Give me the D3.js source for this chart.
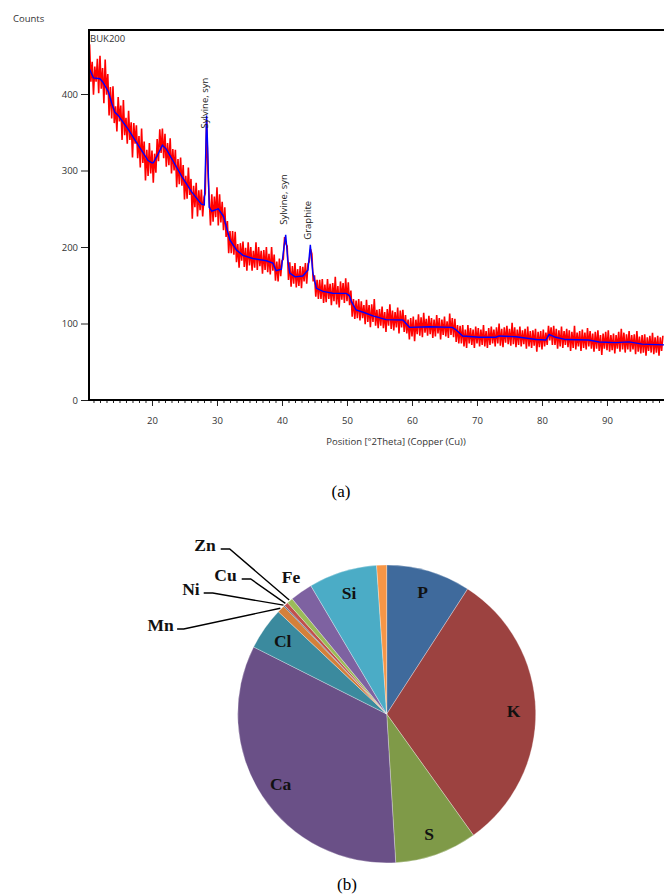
<!DOCTYPE html>
<html><head><meta charset="utf-8">
<script src="https://cdn.jsdelivr.net/npm/d3@7"></script>
<style>body{margin:0;background:#fff}svg{display:block}</style>
</head><body>
<svg id="c" width="664" height="896"></svg>
<script>
// ---------- DATA ----------
// XRD raw counts (red), fixed step in 2Theta
const redStart = 10.4, redStep = 0.2;
const redCounts = [
465,416,442,
399,436,416,446,401, 450,407,434,388,445, 399,426,372,409,368, 410,362,384,351,396,
364,385,340,392,346, 369,335,378,340,363, 317,362,335,359,316, 345,304,355,310,338,
287,327,293,336,296, 326,284,322,297,341, 312,354,323,355,316, 348,305,336,307,342,
296,328,300,327,278, 315,282,317,280,307, 262,293,263,304,268, 289,237,280,252,284,
240,274,248,275,240, 265,270,365,300,264, 228,269,233,266,239, 278,228,269,232,259,
222,252,213,234,192, 221,192,221,190,220, 180,204,173,205,182, 207,174,199,169,206,
176,200,169,195,173, 206,170,200,175,195, 165,196,170,200,167, 191,164,200,169,190,
156,181,155,185,162, 182,184,213,204,201, 157,180,148,175,152, 179,147,171,149,175,
146,174,155,179,152, 178,181,197,191,155, 163,135,157,132,157, 132,158,127,151,128,
158,132,152,124,153, 129,161,125,149,121, 155,131,153,127,159, 129,154,124,143,109,
132,106,130,107,132, 104,129,107,124,99, 131,102,124,95,125, 102,132,97,118,94,
119,97,122,94,115, 89,119,97,125,93, 117,91,115,95,121, 87,117,95,118,89,
111,87,105,79,107, 83,109,77,105,86, 112,84,108,82,114, 88,106,84,110,86,
107,81,105,83,111, 87,107,79,105,85, 109,83,103,81,113, 85,107,82,106,76,
98,74,97,74,98, 70,92,68,98,74, 94,72,92,68,96, 74,94,70,92,72,
98,70,90,68,94, 72,96,74,92,70, 95,74,100,71,93, 69,95,75,97,73,
93,71,101,73,95, 69,92,72,96,70, 91,73,93,67,96, 70,90,68,91,71,
93,63,89,69,90, 66,92,70,88,72, 97,78,95,72,97, 72,93,67,91,70,
96,68,90,72,93, 69,91,64,89,68, 97,66,88,70,90, 64,92,68,88,66,
94,70,90,67,87, 63,89,67,91,64, 85,59,87,67,89, 65,91,63,85,65,
87,61,85,67,89, 63,93,66,88,62, 86,66,90,63,85, 66,86,60,90,63,
83,61,85,62,86, 58,82,64,84,62, 88,60,82,62,84,
58,82,64,84
];
// calculated profile (blue)
const blueTheta  = [10.31,11.0,12.0,12.4,13.3,13.8,14.3,14.8,16.4,17.9,19.4,20.0,20.2,20.8,21.6,22.2,23.0,24.6,26.1,27.6,
                    28.05,28.2,28.4,28.57,28.8,29.2,30.2,31.0,32.0,33.0,34.0,35.5,37.6,38.6,39.1,39.9,40.3,40.57,40.9,41.2,
                    42.0,43.2,44.0,44.36,44.75,45.3,46.3,47.8,49.9,50.4,50.7,51.4,52.4,54.0,56.0,58.6,59.6,62.7,66.2,66.8,
                    67.8,70.4,72.9,73.4,76.0,79.1,80.6,81.1,82.1,83.7,87.2,88.8,91.3,93.4,95.4,98.77];
const blueCounts = [434,421,420,416,403,388,376,372,353,333,313,310,310,319,333,328,316,292,272,256,
                    255,300,372,330,252,247,250,240,209,196,189,185,182,179,169,171,200,216,183,166,
                    161,162,170,203,166,146,142,139.5,139.4,136,128.5,117.6,115,110,105,104.6,95,95.8,95,91.5,
                    83.7,82,82,83.7,82.7,79,78.4,85.8,82,79,78.4,75.8,75,76,73,72];
const xTicks = [20,30,40,50,60,70,80,90];
const xMinorTicks = d3.range(11, 99);
const yTicks = [0,100,200,300,400];
const peakTheta  = [28.4, 40.57, 44.36];
const peakCounts = [372, 216, 203];
const peakNames  = ["Sylvine, syn","Sylvine, syn","Graphite"];

// pie composition
const elements = ["P","K","S","Ca","Cl","Mn","Ni","Cu","Zn","Fe","Si",""];
const percents = [9.14,30.97,8.92,33.39,4.61,0.83,0.11,0.44,0.64,2.44,7.42,1.08];
const sliceColors = ["#3F6A9C","#9C4240","#7F9A48","#6A5087","#3B8A9E","#D4803A",
                     "#2C4D75","#C0504D","#9BBB59","#7E62A1","#4BACC6","#F79646"];

// ---------- LAYOUT ----------
const svg = d3.select("#c");
const plot = {left:89, right:664, top:30, bottom:400};
const uiFont = "'Open Sans', 'Liberation Sans', Arial, sans-serif";
const serif = "'Liberation Serif', 'Times New Roman', serif";

const x = d3.scaleLinear().domain([10.31, 98.77]).range([plot.left, plot.right]);
const y = d3.scaleLinear().domain([0, 400]).range([plot.bottom, 94]);

svg.append("clipPath").attr("id","pc").append("rect")
  .attr("x",plot.left).attr("y",plot.top).attr("width",plot.right-plot.left).attr("height",plot.bottom-plot.top);

const g = svg.append("g").attr("clip-path","url(#pc)");
g.append("path").datum(redCounts)
  .attr("fill","none").attr("stroke","#ff0000").attr("stroke-width",1.6).attr("stroke-linejoin","bevel")
  .attr("d", d3.line().x((d,i)=>x(redStart+i*redStep)).y(d=>y(d)));
g.append("path").datum(blueTheta.map((t,i)=>[t,blueCounts[i]]))
  .attr("fill","none").attr("stroke","#0000ff").attr("stroke-width",1.4)
  .attr("d", d3.line().x(d=>x(d[0])).y(d=>y(d[1])));

// axes
const ya = svg.append("g").attr("transform",`translate(${plot.left},0)`)
  .call(d3.axisLeft(y).tickValues(yTicks).tickSize(8).tickPadding(3));
const xm = svg.append("g").attr("transform",`translate(0,${plot.bottom})`)
  .call(d3.axisBottom(x).tickValues(xMinorTicks).tickSize(3).tickFormat(""));
const xa = svg.append("g").attr("transform",`translate(0,${plot.bottom})`)
  .call(d3.axisBottom(x).tickValues(xTicks).tickSize(6).tickPadding(11));
[ya,xm,xa].forEach(a=>{
  a.select(".domain").remove();
  a.selectAll("line").attr("stroke","#222");
  a.selectAll("text").attr("font-family",uiFont).attr("font-size",9.5).attr("fill","#333");
});
// frame
svg.append("path").attr("fill","none").attr("stroke","#000").attr("stroke-width",2)
  .attr("d",`M${plot.right},${plot.top}H${plot.left}V${plot.bottom}H${plot.right}`);

svg.append("text").attr("x",13).attr("y",21.5).text("Counts")
  .attr("font-family",uiFont).attr("font-size",9.5).attr("fill","#333");
svg.append("text").attr("x",plot.left+1).attr("y",41.5).text("BUK200")
  .attr("font-family",uiFont).attr("font-size",9.5).attr("fill","#333");
svg.append("text").attr("x",396).attr("y",444.5).attr("text-anchor","middle")
  .text("Position [°2Theta] (Copper (Cu))")
  .attr("font-family",uiFont).attr("font-size",9.5).attr("fill","#333");

const peakLabelDy = [13,-10,-5];
peakNames.forEach((n,i)=>{
  const px = x(peakTheta[i])+1, py = y(peakCounts[i])+peakLabelDy[i];
  svg.append("text").attr("transform",`translate(${px},${py}) rotate(-90)`)
    .text(n).attr("font-family",uiFont).attr("font-size",9.5).attr("fill","#222");
});

svg.append("text").attr("x",341).attr("y",497).attr("text-anchor","middle").text("(a)")
  .attr("font-family",serif).attr("font-size",17).attr("fill","#000");
svg.append("text").attr("x",347).attr("y",890).attr("text-anchor","middle").text("(b)")
  .attr("font-family",serif).attr("font-size",17).attr("fill","#000");

// ---------- PIE ----------
const cx = 386.7, cy = 714, R = 149;
const pg = svg.append("g").attr("transform",`translate(${cx},${cy})`);
const arcs = d3.pie().sort(null).value(d=>d)(percents);
const arc = d3.arc().innerRadius(0).outerRadius(R);
pg.selectAll("path.s").data(arcs).join("path").attr("class","s")
  .attr("d",arc).attr("fill",(d,i)=>sliceColors[i])
  .attr("stroke","#ffffff").attr("stroke-opacity",0.5).attr("stroke-width",0.6);

const inside = ["P","K","S","Ca","Cl","Si"];
const labelArc = d3.arc().innerRadius(127).outerRadius(127);
const outerArc = d3.arc().innerRadius(167).outerRadius(167);
const rimArc = d3.arc().innerRadius(150).outerRadius(150);
const callouts = {Mn:{tx:-213,ty:-89,gap:3.4,el:10}, Ni:{tx:-187,ty:-125,gap:4,el:13},
                  Cu:{tx:-150,ty:-139,gap:5,el:14}, Zn:{tx:-171,ty:-169,gap:5,el:14}};
const lblStyle = s => s.attr("font-family",serif).attr("font-weight","bold").attr("font-size",17.5).attr("fill","#111");

arcs.forEach((a,i)=>{
  const name = elements[i];
  if (!name) return;
  if (inside.includes(name)) {
    const [lx,ly] = labelArc.centroid(a);
    pg.append("text").attr("x",lx).attr("y",ly).attr("dy","0.35em").attr("text-anchor","middle").text(name).call(lblStyle);
  } else if (name === "Fe") {
    const [lx,ly] = outerArc.centroid(a);
    pg.append("text").attr("x",lx).attr("y",ly).attr("dy","0.35em").attr("text-anchor","middle").text(name).call(lblStyle);
  } else {
    const c = callouts[name];
    const [rx,ry] = rimArc.centroid(a);
    pg.append("text").attr("x",c.tx).attr("y",c.ty).attr("dy","0.35em").attr("text-anchor","end").text(name).call(lblStyle);
    pg.append("path").attr("fill","none").attr("stroke","#000").attr("stroke-width",1.4)
      .attr("d",`M${c.tx+c.gap},${c.ty+4}H${c.tx+c.el}L${rx},${ry}`);
  }
});
</script>
</body></html>
